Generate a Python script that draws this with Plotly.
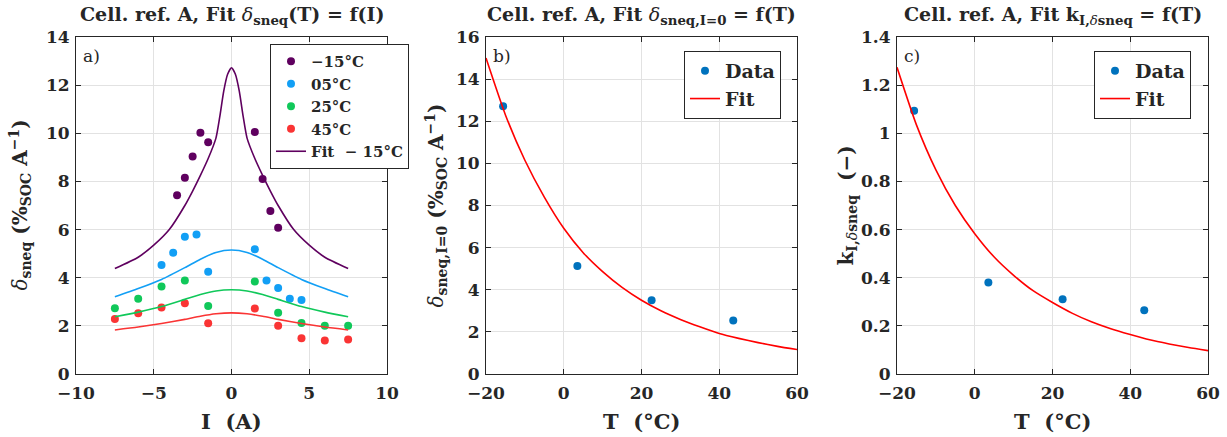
import plotly.graph_objects as go

W, H = 1227, 437

# ---------------- Panel a: data ----------------
I_m15 = [-3.5, -3, -2.5, -2, -1.5, 1.5, 2, 2.5, 3]
d_m15 = [7.43, 8.15, 9.04, 10.02, 9.63, 10.05, 8.1, 6.77, 6.08]
I_05 = [-4.5, -3.75, -3, -2.25, -1.5, 1.5, 2.25, 3, 3.75, 4.5]
d_05 = [4.53, 5.04, 5.70, 5.80, 4.25, 5.18, 3.88, 3.57, 3.13, 3.07]
I_25 = [-7.5, -6, -4.5, -3, -1.5, 1.5, 3, 4.5, 6, 7.5]
d_25 = [2.73, 3.13, 3.64, 3.88, 2.83, 3.84, 2.54, 2.12, 2.0, 2.0]
I_45 = [-7.5, -6, -4.5, -3, -1.5, 1.5, 3, 4.5, 6, 7.5]
d_45 = [2.29, 2.52, 2.76, 2.94, 2.11, 2.72, 2.0, 1.49, 1.39, 1.43]

# Panel a: fit curves
I_fit_m15 = [-7.5, -6, -5, -4, -3, -2.5, -2, -1.5, -1, -0.75, -0.5, -0.25, 0,
             0.25, 0.5, 0.75, 1, 1.5, 2, 2.5, 3, 4, 5, 6, 7.5]
f_m15 = [4.38, 4.85, 5.35, 6.0, 7.0, 7.6, 8.25, 8.95, 9.8, 10.7, 11.75, 12.45, 12.72,
         12.45, 11.75, 10.7, 9.8, 8.95, 8.25, 7.6, 7.0, 6.0, 5.35, 4.85, 4.38]
I_fit = [-7.5, -6, -4.5, -3, -2, -1, 0, 1, 2, 3, 4.5, 6, 7.5]
f_05 = [3.21, 3.55, 3.93, 4.42, 4.77, 5.05, 5.15, 5.05, 4.77, 4.42, 3.93, 3.55, 3.21]
f_25 = [2.38, 2.57, 2.80, 3.10, 3.30, 3.45, 3.50, 3.45, 3.30, 3.10, 2.80, 2.57, 2.38]
f_45 = [1.83, 1.95, 2.10, 2.27, 2.40, 2.50, 2.54, 2.50, 2.40, 2.27, 2.10, 1.95, 1.83]

# ---------------- Panels b, c ----------------
T_data = [-15.6, 3.5, 22.6, 43.6]
d0_data = [12.71, 5.13, 3.50, 2.54]
k_data = [1.094, 0.380, 0.311, 0.265]
T_fit = [-20, -15, -10, -5, 0, 5, 10, 15, 20, 25, 30, 35, 40, 45, 50, 55, 60]
d0_fit = [15.0, 12.3, 10.15, 8.4, 6.92, 5.76, 4.86, 4.11, 3.5, 3.0, 2.59, 2.24,
          1.92, 1.69, 1.49, 1.31, 1.16]
k_fit = [1.274, 1.035, 0.848, 0.70, 0.583, 0.486, 0.41, 0.346, 0.297, 0.253, 0.217,
         0.188, 0.164, 0.142, 0.125, 0.110, 0.097]

C_P, C_B, C_G, C_R = "#5f005f", "#129ff5", "#10c85a", "#fa3434"
C_D, C_F = "#0072BD", "#ff0000"
AX = "#262626"
FONT = "DejaVu Serif"
NB = "\u00a0"

fig = go.Figure()
ms = 8

def sc(x, y, color, name, xa, ya, legend, show=True):
    fig.add_trace(go.Scatter(x=x, y=y, mode="markers", name=name,
                             marker=dict(color=color, size=ms),
                             xaxis=xa, yaxis=ya, legend=legend, showlegend=show))

def ln(x, y, color, name, xa, ya, legend, show=True):
    fig.add_trace(go.Scatter(x=x, y=y, mode="lines", name=name,
                             line=dict(color=color, width=1.6, shape="spline", smoothing=0.6),
                             xaxis=xa, yaxis=ya, legend=legend, showlegend=show))

sc(I_m15, d_m15, C_P, "<b>−15°C</b>", "x", "y", "legend")
sc(I_05, d_05, C_B, "<b>05°C</b>", "x", "y", "legend")
sc(I_25, d_25, C_G, "<b>25°C</b>", "x", "y", "legend")
sc(I_45, d_45, C_R, "<b>45°C</b>", "x", "y", "legend")
ln(I_fit_m15, f_m15, C_P, "<b>Fit" + NB + NB + "−" + NB + "15°C</b>", "x", "y", "legend")
ln(I_fit, f_05, C_B, "fit05", "x", "y", "legend", False)
ln(I_fit, f_25, C_G, "fit25", "x", "y", "legend", False)
ln(I_fit, f_45, C_R, "fit45", "x", "y", "legend", False)

sc(T_data, d0_data, C_D, "<b>Data</b>", "x2", "y2", "legend2")
ln(T_fit, d0_fit, C_F, "<b>Fit</b>", "x2", "y2", "legend2")
sc(T_data, k_data, C_D, "<b>Data</b>", "x3", "y3", "legend3")
ln(T_fit, k_fit, C_F, "<b>Fit</b>", "x3", "y3", "legend3")

ydom = [63 / H, 1 - 37 / H]
doms = [[76 / W, 387 / W], [486 / W, 797 / W], [897 / W, 1208 / W]]

def axis(dom, rng, dtick, anchor, standoff):
    return dict(domain=dom, range=rng, dtick=dtick, tick0=0, showline=True, mirror="ticks",
                linecolor=AX, linewidth=1, ticks="inside", ticklen=5, tickcolor=AX,
                showgrid=True, gridcolor="#e2e2e2", gridwidth=1, zeroline=False,
                anchor=anchor, automargin=False, ticklabelstandoff=standoff,
                tickfont=dict(family=FONT, size=17, color=AX, weight="bold"))

fig.update_layout(
    xaxis=axis(doms[0], [-10, 10], 5, "y", 4),
    yaxis=axis(ydom, [0, 14], 2, "x", 2),
    xaxis2=axis(doms[1], [-20, 60], 20, "y2", 4),
    yaxis2=axis(ydom, [0, 16], 2, "x2", 2),
    xaxis3=axis(doms[2], [-20, 60], 20, "y3", 4),
    yaxis3=axis(ydom, [0, 1.4], 0.2, "x3", 2),
)

leg = dict(bgcolor="white", bordercolor=AX, borderwidth=1, xanchor="left", yanchor="top",
           tracegroupgap=0, itemwidth=30)
fig.update_layout(
    legend=dict(leg, x=270 / W, y=1 - 44 / H, font=dict(family=FONT, size=15, color=AX)),
    legend2=dict(leg, x=684 / W, y=1 - 51 / H, font=dict(family=FONT, size=19, color=AX)),
    legend3=dict(leg, x=1094 / W, y=1 - 51 / H, font=dict(family=FONT, size=19, color=AX)),
)

ann = []
titles = [
    "<b>Cell. ref. A, Fit </b><i>δ</i><sub><b>sneq</b></sub><b>(T) = f(I)</b>",
    "<b>Cell. ref. A, Fit </b><i>δ</i><sub><b>sneq,I=0</b></sub><b> = f(T)</b>",
    "<b>Cell. ref. A, Fit k</b><sub><b>I,</b><i>δ</i><b>sneq</b></sub><b> = f(T)</b>",
]
for (a, b), t in zip(doms, titles):
    ann.append(dict(text=t, x=(a + b) / 2, y=1 - 16 / H, xref="paper", yref="paper",
                    showarrow=False, xanchor="center", yanchor="middle",
                    font=dict(family=FONT, size=19, color=AX)))
for (a, b), t in zip(doms, ["a)", "b)", "c)"]):
    ann.append(dict(text=t, x=a + 5 / W, y=1 - 44 / H, xref="paper", yref="paper",
                    showarrow=False, xanchor="left", yanchor="top",
                    font=dict(family=FONT, size=17, color=AX)))
xt = ["<b>I" + NB + NB + "(A)</b>", "<b>T" + NB + NB + "(°C)</b>", "<b>T" + NB + NB + "(°C)</b>"]
for (a, b), t in zip(doms, xt):
    ann.append(dict(text=t, x=(a + b) / 2, y=1 - 421 / H, xref="paper", yref="paper",
                    showarrow=False, xanchor="center", yanchor="middle",
                    font=dict(family=FONT, size=21, color=AX)))
yt = [
    "<i>δ</i><sub><b>sneq</b></sub><b>" + NB + "(%</b><sub><b>SOC</b></sub><b>" + NB + "A</b><sup><b>−1</b></sup><b>)</b>",
    "<i>δ</i><sub><b>sneq,I=0</b></sub><b>" + NB + "(%</b><sub><b>SOC</b></sub><b>" + NB + "A</b><sup><b>−1</b></sup><b>)</b>",
    "<b>k</b><sub><b>I,</b><i>δ</i><b>sneq</b></sub><b>" + NB + NB + "(−)</b>",
]
for xp, t in zip([20, 436, 846], yt):
    ann.append(dict(text=t, x=xp / W, y=(ydom[0] + ydom[1]) / 2, xref="paper", yref="paper",
                    showarrow=False, xanchor="center", yanchor="middle", textangle=-90,
                    font=dict(family=FONT, size=20, color=AX)))

fig.update_layout(annotations=ann, width=W, height=H, template="none",
                  margin=dict(l=0, r=0, t=0, b=0), plot_bgcolor="white",
                  paper_bgcolor="white", font=dict(family=FONT, color=AX))

fig.write_html("out.html", post_script="document.body.style.margin='0';",
               config={"displayModeBar": False})
